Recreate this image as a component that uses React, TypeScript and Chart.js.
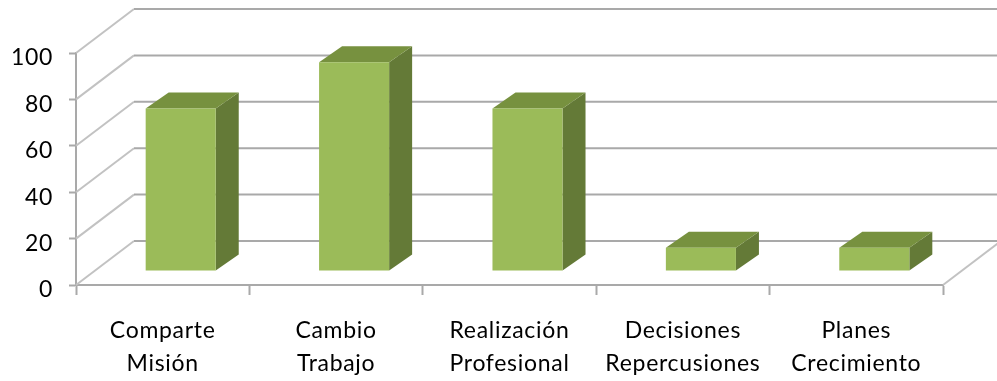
import React, { useEffect, useRef } from "react";
import { Chart, registerables } from "chart.js";

Chart.register(...registerables);

const categories: string[][] = [
  ["Comparte", "Misión"],
  ["Cambio", "Trabajo"],
  ["Realización", "Profesional"],
  ["Decisiones", "Repercusiones"],
  ["Planes", "Crecimiento"],
];
const seriesValues: number[] = [70, 90, 70, 10, 10];
const axisMin = 0;
const axisMax = 100;
const axisStep = 20;

const FRONT = "#9BBB59";
const TOP = "#77913F";
const SIDE = "#647A37";
const AXIS = "#A9A9A9";
const WALL = "#C2C2C2";

// Projection of the chart's depth axis: full box, and where the bars stand in it.
const BOX_DX = 58;
const BOX_DY = -44;
const BAR_OFFSET_X = 18;
const BAR_OFFSET_Y = -14;
const BAR_DX = 23;
const BAR_DY = -16;

const box3d = {
  id: "box3d",
  beforeDraw(chart: any) {
    const ctx = chart.ctx;
    (ctx as any).letterSpacing = "0.7px";
    // Axis digits sit a little below their tick marks.
    for (const item of chart.scales.y.getLabelItems()) {
      if (!item.shifted) {
        item.options.translation = [item.options.translation[0], item.options.translation[1] + 5];
        item.shifted = true;
      }
    }
  },
  beforeDatasetsDraw(chart: any) {
    const { ctx, scales, chartArea } = chart;
    const y = scales.y;
    ctx.save();
    ctx.lineWidth = 2;
    for (const tick of y.ticks) {
      const py = y.getPixelForValue(tick.value);
      ctx.strokeStyle = WALL;
      ctx.beginPath();
      ctx.moveTo(chartArea.left, py);
      ctx.lineTo(chartArea.left + BOX_DX, py + BOX_DY);
      ctx.stroke();
      ctx.strokeStyle = AXIS;
      ctx.beginPath();
      ctx.moveTo(chartArea.left + BOX_DX, py + BOX_DY);
      ctx.lineTo(chartArea.right + BOX_DX, py + BOX_DY);
      ctx.stroke();
    }
    ctx.strokeStyle = WALL;
    ctx.beginPath();
    ctx.moveTo(chartArea.right, chartArea.bottom);
    ctx.lineTo(chartArea.right + BOX_DX, chartArea.bottom + BOX_DY);
    ctx.stroke();
    ctx.restore();

    // The library's bars become the front faces, moved into the box's depth.
    ctx.save();
    ctx.translate(BAR_OFFSET_X, BAR_OFFSET_Y);
    const bars = chart.getDatasetMeta(0).data;
    for (const bar of bars) {
      const { x, y: top, base, width } = bar.getProps(["x", "y", "base", "width"], true);
      const l = x - width / 2;
      const r = x + width / 2;
      ctx.fillStyle = SIDE;
      ctx.beginPath();
      ctx.moveTo(r, top);
      ctx.lineTo(r + BAR_DX, top + BAR_DY);
      ctx.lineTo(r + BAR_DX, base + BAR_DY);
      ctx.lineTo(r, base);
      ctx.closePath();
      ctx.fill();
      ctx.fillStyle = TOP;
      ctx.beginPath();
      ctx.moveTo(l, top);
      ctx.lineTo(l + BAR_DX, top + BAR_DY);
      ctx.lineTo(r + BAR_DX, top + BAR_DY);
      ctx.lineTo(r, top);
      ctx.closePath();
      ctx.fill();
    }
  },
  afterDatasetsDraw(chart: any) {
    chart.ctx.restore();
  },
};

export default function App() {
  const ref = useRef<HTMLCanvasElement>(null);
  useEffect(() => {
    const chart = new Chart(ref.current!, {
      type: "bar",
      data: {
        labels: categories,
        datasets: [
          {
            data: seriesValues,
            backgroundColor: FRONT,
            barPercentage: 0.404,
            categoryPercentage: 1,
            clip: false,
          } as any,
        ],
      },
      options: {
        responsive: false,
        animation: false,
        events: [],
        layout: { padding: { top: 53, right: 54, left: 0, bottom: 0 } },
        plugins: { legend: { display: false }, tooltip: { enabled: false } },
        scales: {
          x: {
            afterFit: (s: any) => {
              s.height = 96;
            },
            grid: { drawOnChartArea: false, tickLength: 10, tickColor: AXIS, tickWidth: 2 },
            border: { color: AXIS, width: 2 },
            ticks: {
              maxRotation: 0,
              minRotation: 0,
              autoSkip: false,
              padding: 19,
              color: "#000",
              font: { family: "Lato", size: 23, lineHeight: 33 / 23 },
            },
          },
          y: {
            min: axisMin,
            max: axisMax,
            afterFit: (s: any) => {
              s.width = 76;
            },
            grid: { drawOnChartArea: false, tickLength: 7, tickColor: AXIS, tickWidth: 2 },
            border: { color: AXIS, width: 2 },
            ticks: {
              stepSize: axisStep,
              padding: 16,
              color: "#000",
              font: { family: "Lato", size: 23 },
            },
          },
        },
      },
      plugins: [box3d],
    } as any);
    return () => chart.destroy();
  }, []);
  return (
    <div style={{ position: "absolute", left: 0, top: 0, width: 997, height: 381 }}>
      <canvas ref={ref} width={997} height={381} style={{ display: "block" }} />
    </div>
  );
}
